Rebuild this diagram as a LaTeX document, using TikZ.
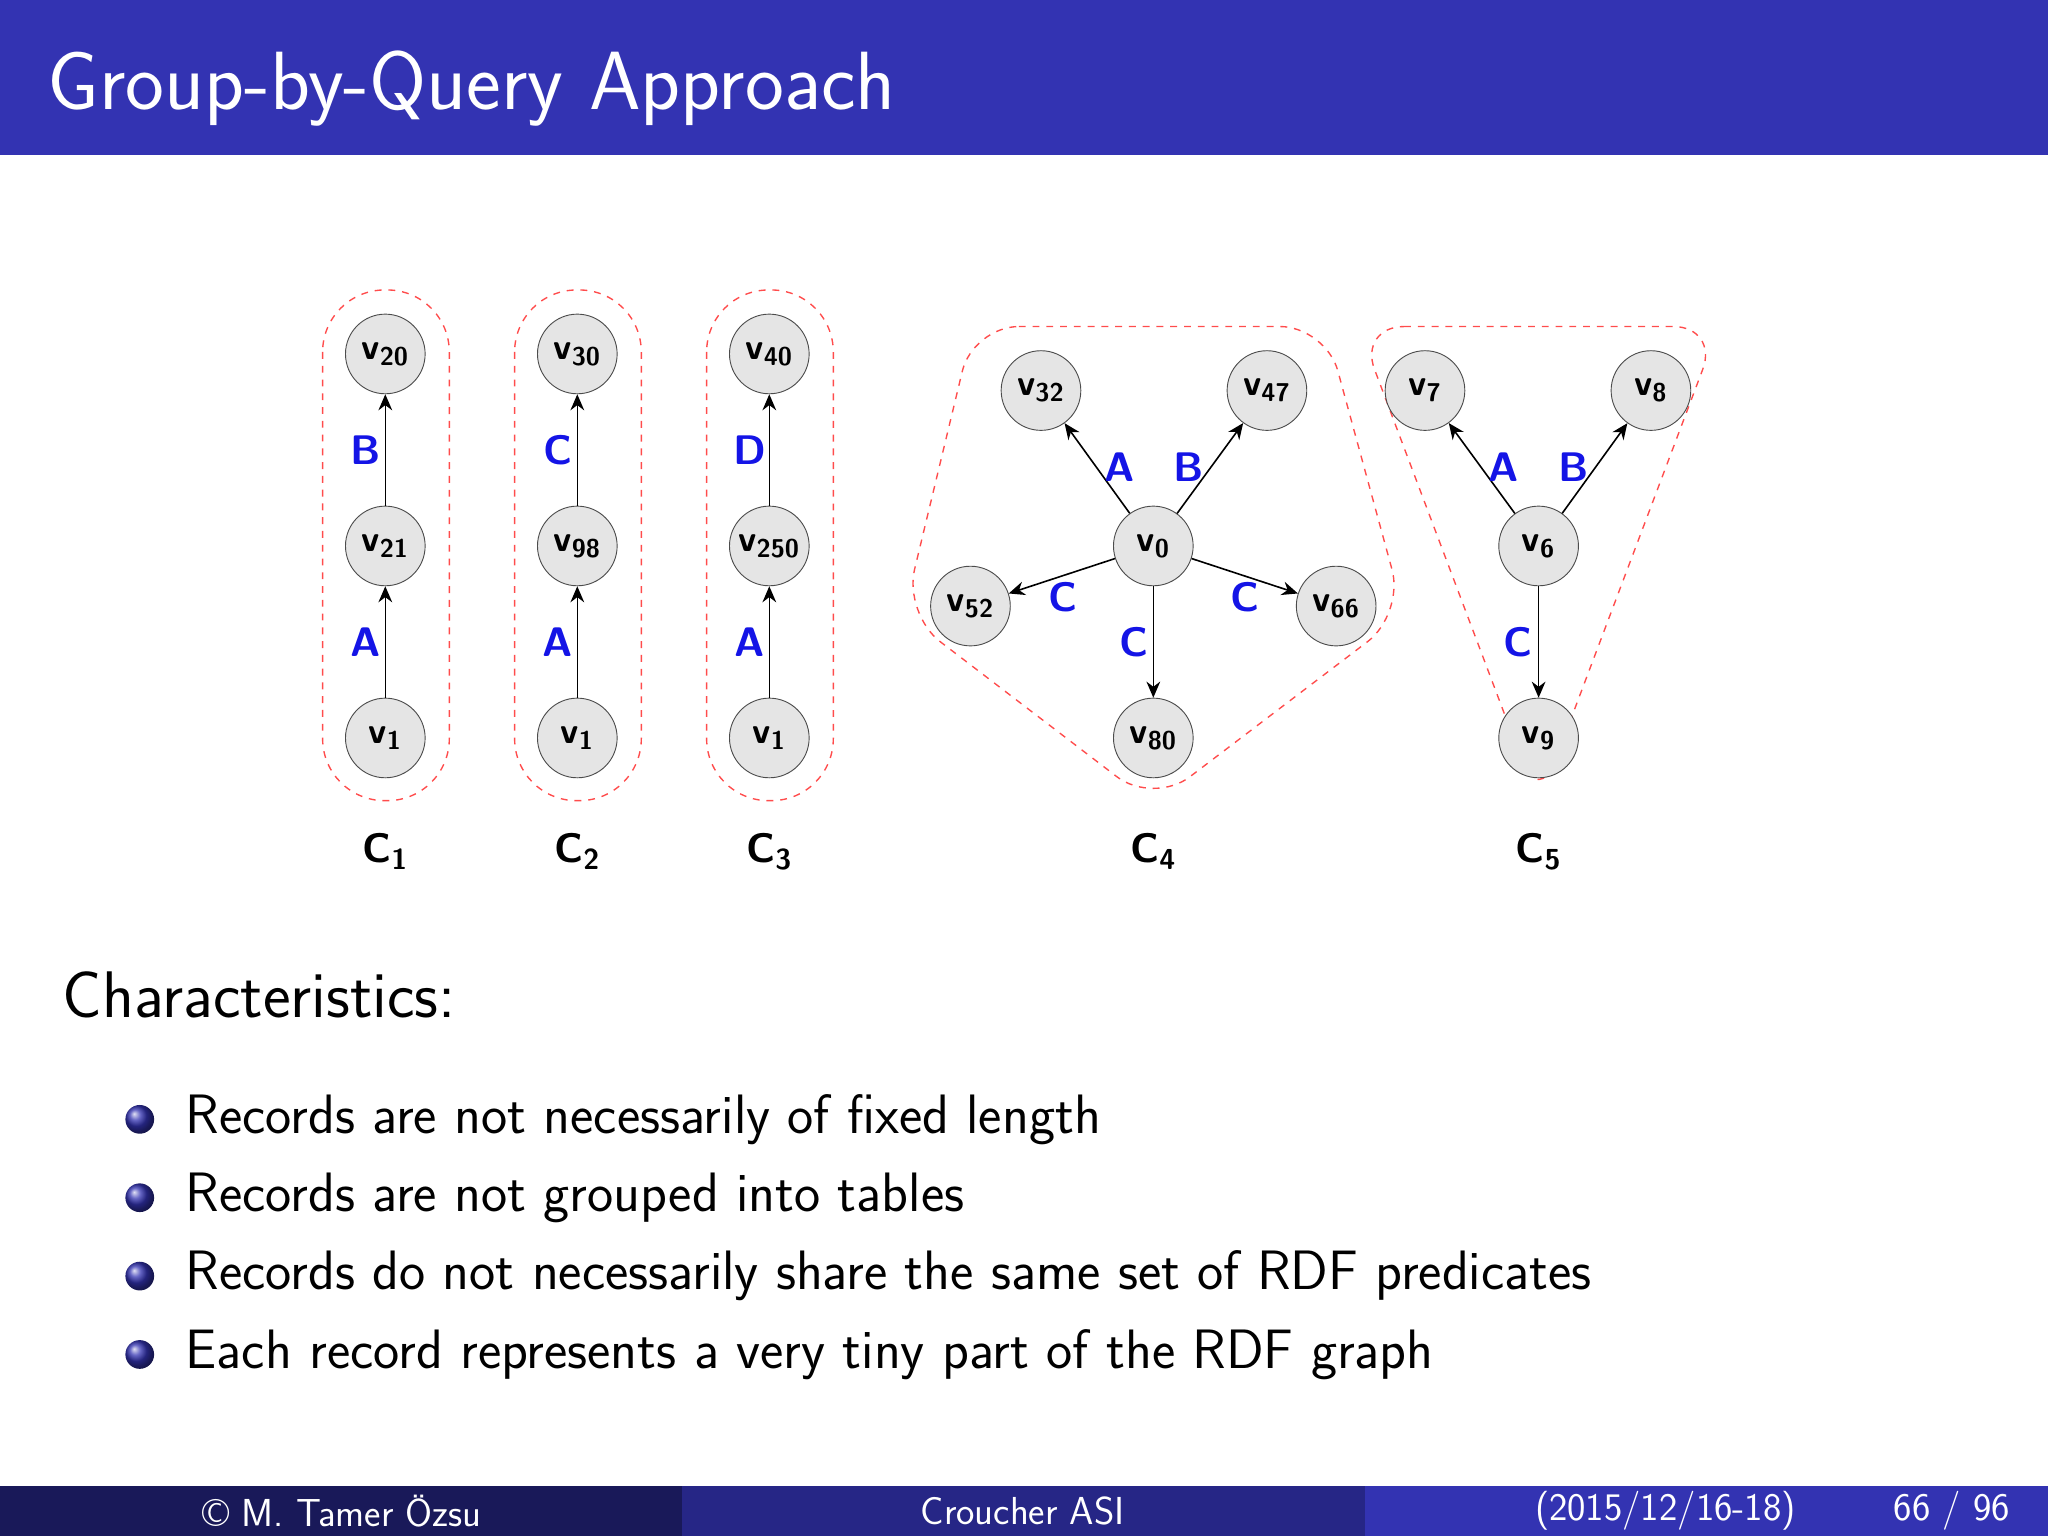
\documentclass[tikz,border=0pt]{standalone}
\usetikzlibrary{arrows.meta}
\definecolor{bbar}{RGB}{51,51,178}
\definecolor{fdark}{RGB}{25,25,89}
\definecolor{fmid}{RGB}{38,38,134}
\definecolor{lbl}{RGB}{20,20,230}
\begin{document}
\begin{tikzpicture}[x=0.02cm,y=-0.02cm,font=\sffamily,
 vx/.style={circle,draw=black!70,fill=black!10,minimum size=1.22cm,inner sep=0pt,font=\sffamily\bfseries\fontsize{16}{19}\selectfont},
 ed/.style={-{Stealth[length=7pt,width=6pt]},black,line width=0.7pt},
 el/.style={text=lbl,font=\sffamily\bfseries\fontsize{18}{21}\selectfont},
 grpcap/.style={font=\sffamily\bfseries\fontsize{18}{21}\selectfont},
 grp/.style={draw=red!70,dashed,line width=0.6pt},
 body/.style={anchor=west,font=\sffamily\fontsize{24.2}{29}\selectfont}]
\useasboundingbox (0,0) rectangle (1568,1176);
\fill[bbar] (0,0) rectangle (1568,119);
\node[anchor=west,text=white,font=\sffamily\fontsize{36}{42}\selectfont] (title) at (30,68) {Group-by-Query Approach};
% groups
\foreach \x in {295,442,589}{\draw[grp,rounded corners=0.95cm] (\x-48,222) rectangle (\x+49,613);}
\draw[grp,rounded corners=0.7cm] (745,250) -- (1015,250) -- (1075,470) -- (883,616) -- (692,470) -- cycle;
\draw[grp,rounded corners=0.7cm] (1040,250) -- (1316,250) -- (1178,616) -- cycle;
% C1
\node[vx] (a20) at (295,271) {v\textsubscript{20}};
\node[vx] (a21) at (295,418) {v\textsubscript{21}};
\node[vx] (a1) at (295,565) {v\textsubscript{1}};
\draw[ed] (a21)--(a20); \draw[ed] (a1)--(a21);
\node[el] (l1) at (280,345) {B}; \node[el] (l2) at (280,492) {A};
\node[grpcap] (c1) at (295,652) {C\textsubscript{1}};
% C2
\node[vx] (b30) at (442,271) {v\textsubscript{30}};
\node[vx] (b98) at (442,418) {v\textsubscript{98}};
\node[vx] (b1) at (442,565) {v\textsubscript{1}};
\draw[ed] (b98)--(b30); \draw[ed] (b1)--(b98);
\node[el] (l3) at (427,345) {C}; \node[el] (l4) at (427,492) {A};
\node[grpcap] (c2) at (442,652) {C\textsubscript{2}};
% C3
\node[vx] (d40) at (589,271) {v\textsubscript{40}};
\node[vx] (d250) at (589,418) {v\textsubscript{250}};
\node[vx] (d1) at (589,565) {v\textsubscript{1}};
\draw[ed] (d250)--(d40); \draw[ed] (d1)--(d250);
\node[el] (l5) at (574,345) {D}; \node[el] (l6) at (574,492) {A};
\node[grpcap] (c3) at (589,652) {C\textsubscript{3}};
% C4
\node[vx] (e0) at (883,418) {v\textsubscript{0}};
\node[vx] (e32) at (797,299) {v\textsubscript{32}};
\node[vx] (e47) at (970,299) {v\textsubscript{47}};
\node[vx] (e52) at (743,464) {v\textsubscript{52}};
\node[vx] (e66) at (1023,464) {v\textsubscript{66}};
\node[vx] (e80) at (883,565) {v\textsubscript{80}};
\foreach \t in {e32,e47,e52,e66,e80}{\draw[ed] (e0)--(\t);}
\node[el] at (857,358) {A}; \node[el] at (910,358) {B};
\node[el] at (814,457) {C}; \node[el] at (953,457) {C}; \node[el] at (868,492) {C};
\node[grpcap] (c4) at (883,652) {C\textsubscript{4}};
% C5
\node[vx] (f6) at (1178,418) {v\textsubscript{6}};
\node[vx] (f7) at (1091,299) {v\textsubscript{7}};
\node[vx] (f8) at (1264,299) {v\textsubscript{8}};
\node[vx] (f9) at (1178,565) {v\textsubscript{9}};
\foreach \t in {f7,f8,f9}{\draw[ed] (f6)--(\t);}
\node[el] at (1151,358) {A}; \node[el] at (1205,358) {B}; \node[el] at (1162,492) {C};
\node[grpcap] (c5) at (1178,652) {C\textsubscript{5}};
% text
\node[anchor=west,font=\sffamily\fontsize{28.7}{34}\selectfont] (ch) at (42,762) {Characteristics:};
\foreach \y/\t in {857/{Records are not necessarily of fixed length},917/{Records are not grouped into tables},977/{Records do not necessarily share the same set of RDF predicates},1037/{Each record represents a very tiny part of the RDF graph}}{
 \shade[ball color=bbar] (107,\y) circle (0.22cm);
 \node[body] at (136,\y) {\t};}
% footer
\fill[fdark] (0,1138) rectangle (522,1176);
\fill[fmid] (522,1138) rectangle (1045,1176);
\fill[bbar] (1045,1138) rectangle (1568,1176);
\node[text=white,font=\sffamily\fontsize{17}{20}\selectfont] (f1) at (262,1157) {\textcopyright{} M. Tamer Özsu};
\node[text=white,font=\sffamily\fontsize{17}{20}\selectfont] (f2) at (783,1157) {Croucher ASI};
\node[text=white,font=\sffamily\fontsize{17}{20}\selectfont,anchor=east] (f3) at (1545,1157) {(2015/12/16-18)\hspace{1.5cm}66 / 96};
\end{tikzpicture}
\end{document}
